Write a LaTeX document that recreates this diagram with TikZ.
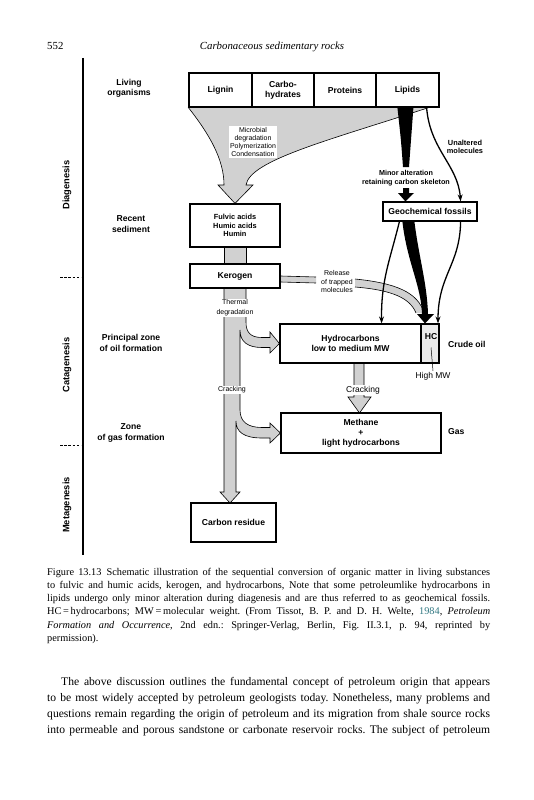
\documentclass[tikz,border=0pt]{standalone}
\usepackage{fontspec}
\setmainfont{Liberation Serif}
\newfontfamily\figfont{Liberation Sans}
\usetikzlibrary{arrows.meta,calc}
\definecolor{linkteal}{RGB}{50,120,130}
\definecolor{stip}{gray}{0.82}
\newcommand\dgB{\figfont\bfseries\fontsize{8.6}{10.2}\selectfont}
\newcommand\dgBs{\figfont\bfseries\fontsize{7.4}{8.7}\selectfont}
\newcommand\dgS{\figfont\fontsize{7}{8.3}\selectfont}
\newcommand\dgM{\figfont\fontsize{8.5}{10}\selectfont}
\newcommand\dgR{\figfont\bfseries\fontsize{9.3}{11}\selectfont}
\pgfdeclarelayer{bg}
\pgfsetlayers{bg,main}
\frenchspacing
\tikzset{
  box/.style={draw, line width=1.2pt, fill=white, inner sep=0pt, align=center, font=\dgB},
  lbl/.style={inner sep=0pt, align=center, font=\dgB},
  small/.style={inner sep=1pt, align=center, font=\dgS},
  bar/.style={fill=stip, draw=black, line width=0.6pt},
  thinarrow/.style={line width=1.3pt, -{Stealth[length=7pt,width=5pt]}},
  bandline/.style={line width=0.6pt},
  serif/.style={inner sep=0pt, anchor=base west}
}
\begin{document}
\begin{tikzpicture}[x=1pt,y=-1pt]
\useasboundingbox (0,0) rectangle (533,800);

% header
\node[serif] (pageno) at (47,49) {\fontsize{10.8}{13}\selectfont 552};
\node[inner sep=0pt, anchor=base] (runhead) at (272,49) {\fontsize{10.8}{13}\selectfont\itshape Carbonaceous sedimentary rocks};

% axis
\draw[line width=1.2pt] (83,58) -- (83,555);
\draw[line width=0.9pt, dash pattern=on 2.6pt off 1.6pt] (60,277) -- (81,277);
\draw[line width=0.9pt, dash pattern=on 2.6pt off 1.6pt] (60,445) -- (81,445);
\node[lbl, font=\dgR, rotate=90] (diag) at (67,185) {Diagenesis};
\node[lbl, font=\dgR, rotate=90] (cata) at (67,365) {Catagenesis};
\node[lbl, font=\dgR, rotate=90] (meta) at (67,505) {Metagenesis};

% left zone labels
\node[lbl] (living) at (129,88) {Living\\organisms};
\node[lbl] (recent) at (131,224) {Recent\\sediment};
\node[lbl] (principal) at (131,343) {Principal zone\\of oil formation};
\node[lbl] (zone) at (131,433) {Zone\\of gas formation};

% boxes
\node[box, minimum width=63pt, minimum height=34pt] (lignin) at (220.5,90) {Lignin};
\node[box, minimum width=62pt, minimum height=34pt] (carbo) at (283,90) {Carbo-\\hydrates};
\node[box, minimum width=62pt, minimum height=34pt] (proteins) at (345,90) {Proteins};
\node[box, minimum width=63pt, minimum height=34pt] (lipids) at (407.5,90) {Lipids};
\node[box, minimum width=94pt, minimum height=19pt] (geo) at (430,211.5) {Geochemical fossils};
\node[box, minimum width=90pt, minimum height=43pt, font=\dgBs] (fulvic) at (235,225.5) {Fulvic acids\\Humic acids\\Humin};
\node[box, minimum width=90pt, minimum height=24pt] (kerogen) at (235,276) {Kerogen};
\node[box, minimum width=141pt, minimum height=39pt] (hydro) at (350.5,343.5) {Hydrocarbons\\low to medium MW};
\node[box, minimum width=18pt, minimum height=39pt, fill=stip!45] (hc) at (430,343.5) {};
\node[lbl] (hctext) at (431,337) {HC};
\node[box, minimum width=160pt, minimum height=40pt] (methane) at (361,433) {Methane\\+\\light hydrocarbons};
\node[box, minimum width=85pt, minimum height=39pt] (residue) at (233.5,522.5) {Carbon residue};

% right labels
\node[lbl, anchor=west] (crude) at (448,344) {Crude oil};
\node[lbl, anchor=west] (gas) at (448,432) {Gas};
\node[inner sep=1pt, font=\dgM] (highmw) at (433,376) {High MW};
\draw[line width=0.5pt] ($(hc.center)+(1,4)$) -- (highmw.north);

% background shapes
\begin{pgfonlayer}{bg}
  % funnel
  \path[bar] (lignin.south west) .. controls (210,135) and (224,160) .. (224,185)
     -- (218,185) -- (fulvic.north) -- (253,185) -- (246,185)
     .. controls (250,160) and (330,140) .. ($(lipids.south east)+(-11,0)$) -- cycle;
  % fulvic -> kerogen bar
  \path[bar] ($(fulvic.south)+(-11,0)$) rectangle ($(kerogen.north)+(11,0)$);
  % main bar with branches
  \path[bar] ($(kerogen.south)+(-11,0)$) -- (224,492) -- (220,492) -- (230,503)
     -- (240,492) -- (236,492) -- (236,421)
     .. controls (236,432) and (244,438) .. (262,438) -- (270,438) -- (270,443)
     -- (methane.west) -- (270,423) -- (270,427.5) -- (262,427.5)
     .. controls (248,427.5) and (240,422) .. (240,410) -- (240,330)
     .. controls (240,342) and (248,347.5) .. (262,347.5) -- (270,347.5) -- (270,353)
     -- (hydro.west) -- (270,332) -- (270,337.5) -- (262,337.5)
     .. controls (250,337.5) and (246,332) .. (246,322) -- ($(kerogen.south)+(11,0)$) -- cycle;
  % cracking arrow to methane
  \path[bar] (354,363) -- (354,397) -- (348,397) -- (359.5,413) -- (371,397) -- (364,397) -- (364,363);
  % release band
  \fill[stip] (kerogen.east |- 0,276) -- (316,277) -- (316,283) -- (kerogen.east |- 0,282) -- cycle;
  \fill[stip] (355,279) .. controls (395,283) and (418,292) .. (424,313) -- (416,313)
     .. controls (410,298) and (392,290) .. (355,287) -- cycle;
\end{pgfonlayer}
\draw[bandline] (kerogen.east |- 0,276) -- (316,277);
\draw[bandline] (kerogen.east |- 0,282) -- (316,283);
\draw[bandline] (355,279) .. controls (395,283) and (418,292) .. (424,313);
\draw[bandline] (355,287) .. controls (392,290) and (410,298) .. (416,313);

% labels on the grey arrows
\node[small, fill=white] (microbial) at (253,142) {Microbial\\degradation\\Polymerization\\Condensation};
\node[small, fill=white, font=\figfont\fontsize{7}{10}\selectfont] (thermal) at (235,308) {Thermal\\degradation};
\node[small, fill=white] (crackL) at (232,390) {Cracking};
\node[small, fill=white, font=\dgM] (crackR) at (363,390) {Cracking};
\node[small, font=\dgS] (release) at (337,281.5) {Release\\of trapped\\molecules};

% lipids black wedge and minor alteration
\fill ($(lipids.south west)+(22,0)$) .. controls (401,140) .. (403,167) -- (409,167)
   .. controls (411,140) .. ($(lipids.south west)+(38,0)$) -- cycle;
\node[lbl, font=\figfont\bfseries\fontsize{7.2}{9}\selectfont] (minor) at (406,178.5) {Minor alteration\\retaining carbon skeleton};
\fill (403,188) -- (403,193) -- (398,193) -- ($(geo.north west)+(23,0)$) -- (414,193) -- (409,193) -- (409,188) -- cycle;

% unaltered molecules
\draw[thinarrow] ($(lipids.south east)+(-13,0)$) .. controls (430,150) and (458,165) .. ($(geo.north east)+(-17,0)$);
\node[lbl, font=\dgBs] (unaltered) at (465,147) {Unaltered\\molecules};

% arrows from geochemical fossils
\draw[thinarrow] ($(geo.south west)+(17,0)$) .. controls (390,260) and (381,280) .. ($(hydro.north east)+(-40,0)$);
\draw[thinarrow] ($(geo.south east)+(-17,0)$) .. controls (460,265) and (438,275) .. ($(hc.north)+(8,0)$);
\fill ($(geo.south west)+(20,0)$) .. controls (407,262) and (421,285) .. (422,314) -- (417,314)
   -- ($(hc.north)+(-5,0)$) -- (434,314) -- (428,314)
   .. controls (427,283) and (419,258) .. ($(geo.south west)+(32,0)$) -- cycle;

% caption
\node[serif] (caption) at (47,575) {\parbox[t]{443pt}{\fontsize{10.3}{13.25}\selectfont
Figure 13.13\enspace Schematic illustration of the sequential conversion of organic matter in living substances\linebreak
to fulvic and humic acids, kerogen, and hydrocarbons, Note that some petroleumlike hydrocarbons in\linebreak
lipids undergo only minor alteration during diagenesis and are thus referred to as geochemical fossils.\linebreak
HC\,=\,hydrocarbons; MW\,=\,molecular weight. (From Tissot, B. P. and D. H. Welte, {\color{linkteal}1984}, \textit{Petroleum}\linebreak
\textit{Formation and Occurrence}, 2nd edn.: Springer-Verlag, Berlin, Fig. II.3.1, p. 94, reprinted by\linebreak
permission).}};

% body text
\node[serif] (body) at (47,685) {\parbox[t]{443pt}{\fontsize{11.6}{16}\selectfont\parfillskip=0pt
\hspace*{14pt}The above discussion outlines the fundamental concept of petroleum origin that appears\linebreak
to be most widely accepted by petroleum geologists today. Nonetheless, many problems and\linebreak
questions remain regarding the origin of petroleum and its migration from shale source rocks\linebreak
into permeable and porous sandstone or carbonate reservoir rocks. The subject of petroleum}};
\end{tikzpicture}
\end{document}
